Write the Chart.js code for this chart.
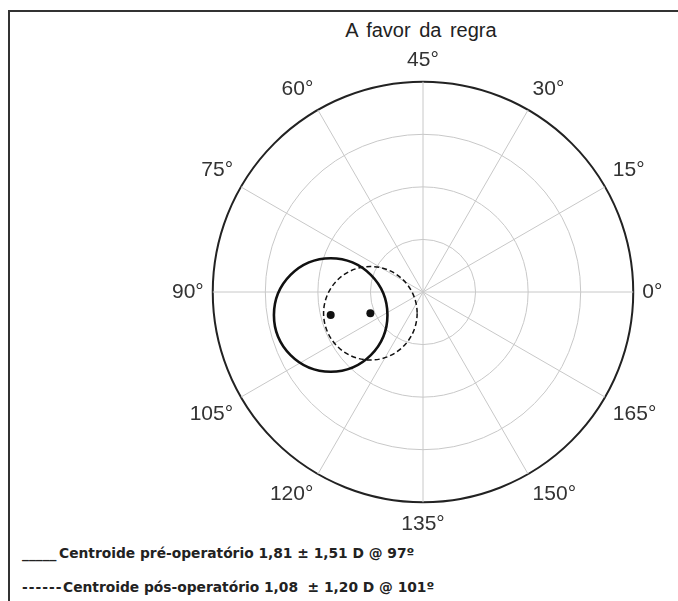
<!DOCTYPE html>
<html>
<head>
<meta charset="utf-8">
<script src="https://cdn.jsdelivr.net/npm/chart.js@4.4.1/dist/chart.umd.min.js"></script>
<style>
  body { margin: 0; background: #fff; width: 678px; height: 601px; overflow: hidden; position: relative; font-family: "Liberation Sans", Arial, sans-serif; }
  #frame { position: absolute; left: 8px; top: 10px; right: -10px; bottom: -10px; border-top: 2px solid #333; border-left: 2px solid #333; }
  #title { position: absolute; left: 311px; width: 220px; top: 18px; text-align: center; font-size: 20px; line-height: 24px; color: #222; word-spacing: 3px; }
  #wrap { position: absolute; left: 166px; top: 41px; width: 503px; height: 503px; }
  .leg { position: absolute; left: 22px; font-family: "DejaVu Sans", sans-serif; font-weight: bold; font-size: 13.8px; line-height: 16px; color: #222; white-space: pre; }
  .leg .key { display: inline-block; }
</style>
</head>
<body>
<div id="frame"></div>
<div id="title">A favor da regra</div>
<div id="wrap"><canvas id="chart"></canvas></div>
<div class="leg" id="leg0" style="top:545px"></div>
<div class="leg" id="leg1" style="top:579px"></div>
<script>
// axis labels go clockwise from the top (doubled-angle plot)
const axisLabels = ["45°", "30°", "15°", "0°", "165°", "150°", "135°", "120°", "105°", "90°", "75°", "60°"];
const ringMax = 4;
const ringStep = 1;

const centroidMag = [1.81, 1.08];
const centroidAxis = [97, 101];
const circleRadius = [1.08, 0.89]; // in D

const legendKeys = ["_____", "------"];
const legendText = [
  "Centroide pré-operatório 1,81 ± 1,51 D @ 97º",
  "Centroide pós-operatório 1,08  ± 1,20 D @ 101º",
];

const circleStyle = [
  { width: 2.6, dash: [] },
  { width: 1.5, dash: [5, 3] },
];

legendText.forEach((t, i) => {
  const el = document.getElementById("leg" + i);
  el.innerHTML = `<span class="key" style="width:${i ? 41 : 37}px;letter-spacing:${i ? 1 : 0}px">${legendKeys[i]}</span>${t}`;
});

const centroidPlugin = {
  id: "centroids",
  afterDatasetsDraw(chart) {
    const r = chart.scales.r;
    const ctx = chart.ctx;
    centroidMag.forEach((mag, i) => {
      const idx = ((((45 - centroidAxis[i]) / 15) % 12) + 12) % 12;
      const p = r.getPointPosition(idx, r.getDistanceFromCenterForValue(mag));
      const rad = r.getDistanceFromCenterForValue(circleRadius[i]);
      ctx.save();
      ctx.strokeStyle = "#111";
      ctx.lineWidth = circleStyle[i].width;
      ctx.setLineDash(circleStyle[i].dash);
      ctx.beginPath();
      ctx.arc(p.x, p.y, rad, 0, Math.PI * 2);
      ctx.stroke();
      ctx.setLineDash([]);
      ctx.fillStyle = "#111";
      ctx.beginPath();
      ctx.arc(p.x, p.y, 4, 0, Math.PI * 2);
      ctx.fill();
      ctx.restore();
    });
  },
};

new Chart(document.getElementById("chart"), {
  type: "radar",
  data: { labels: axisLabels, datasets: [] },
  options: {
    animation: false,
    responsive: true,
    maintainAspectRatio: false,
    plugins: { legend: { display: false }, tooltip: { enabled: false } },
    scales: {
      r: {
        min: 0,
        max: ringMax,
        ticks: { display: false, stepSize: ringStep },
        grid: {
          circular: true,
          color: (c) => (c.index === 4 ? "#222" : "#c8c8c8"),
          lineWidth: (c) => (c.index === 4 ? 2 : 1),
        },
        angleLines: { color: "#c8c8c8", lineWidth: 1 },
        pointLabels: {
          padding: 9,
          color: "#333",
          font: { family: '"Liberation Sans", Arial, sans-serif', size: 21 },
        },
      },
    },
  },
  plugins: [centroidPlugin],
});
</script>
</body>
</html>
